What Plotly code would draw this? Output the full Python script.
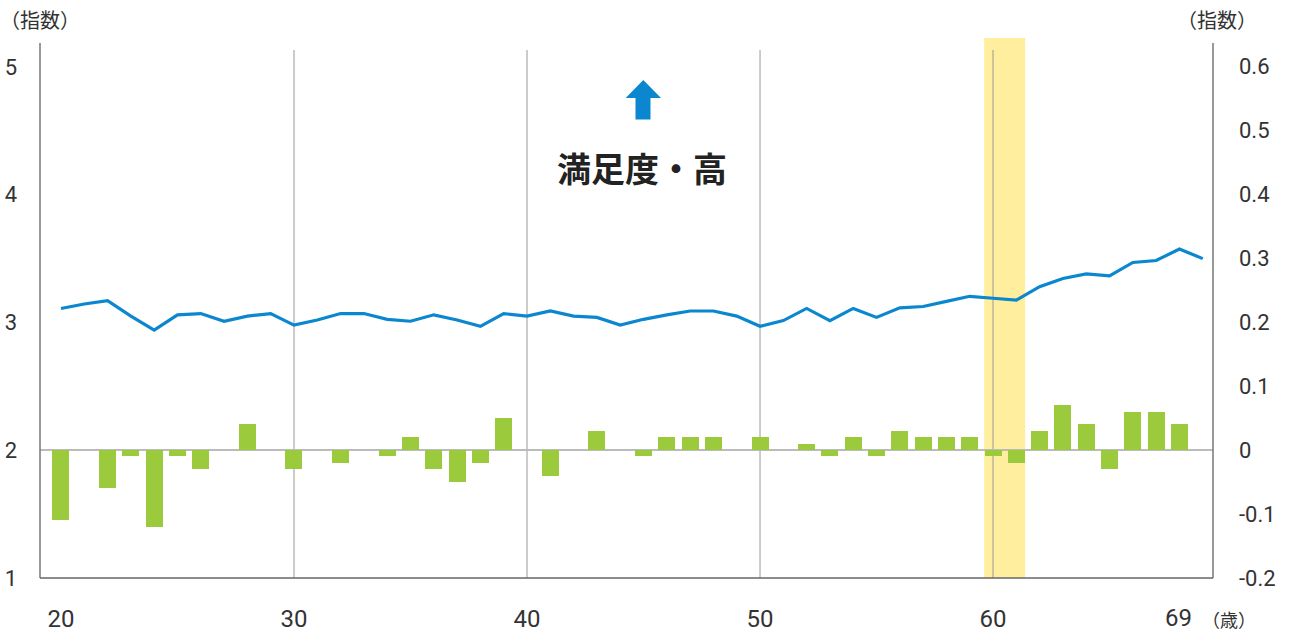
import plotly.graph_objects as go

ages = list(range(20, 70))
satisfaction = [3.11, 3.145, 3.17, 3.05, 2.94, 3.06, 3.07, 3.01, 3.05, 3.07,
                2.98, 3.02, 3.07, 3.07, 3.025, 3.01, 3.06, 3.02, 2.97, 3.07,
                3.05, 3.09, 3.05, 3.04, 2.98, 3.025, 3.06, 3.09, 3.09, 3.05,
                2.97, 3.015, 3.11, 3.015, 3.11, 3.04, 3.115, 3.125, 3.165, 3.205,
                3.19, 3.175, 3.28, 3.345, 3.38, 3.365, 3.47, 3.485, 3.575, 3.50]
change = [-0.11, 0, -0.06, -0.01, -0.12, -0.01, -0.03, 0, 0.04, 0,
          -0.03, 0, -0.02, 0, -0.01, 0.02, -0.03, -0.05, -0.02, 0.05,
          0, -0.04, 0, 0.03, 0, -0.01, 0.02, 0.02, 0.02, 0,
          0.02, 0, 0.01, -0.01, 0.02, -0.01, 0.03, 0.02, 0.02, 0.02,
          -0.01, -0.02, 0.03, 0.07, 0.04, -0.03, 0.06, 0.06, 0.04, 0]
x_ticks = [20, 30, 40, 50, 60]
last_age = 69
left_ticks = [1, 2, 3, 4, 5]
right_ticks = [-0.2, -0.1, 0, 0.1, 0.2, 0.3, 0.4, 0.5, 0.6]
right_tick_text = ["-0.2", "-0.1", "0", "0.1", "0.2", "0.3", "0.4", "0.5", "0.6"]
grid_ages = [30, 40, 50, 60]
band = [59.62, 61.38]

YFONT = dict(family="Roboto", size=22, color="#333333")
XFONT = dict(family="Roboto", size=24, color="#333333")
JP = "Noto Sans CJK JP"

fig = go.Figure()
fig.add_trace(go.Bar(x=ages, y=change, yaxis="y2", width=0.73,
                     marker=dict(color="#9BCB3C", line=dict(width=0)),
                     showlegend=False))
fig.add_trace(go.Scatter(x=ages, y=satisfaction, yaxis="y", mode="lines",
                         line=dict(color="#0A87CE", width=3.2), showlegend=False))

shapes = []
shapes.append(dict(type="rect", xref="x", yref="paper", x0=band[0], x1=band[1],
                   y0=0, y1=1, fillcolor="#FFEE9E", line=dict(width=0), layer="below"))
gtop = (578 - 50) / 540
for g in grid_ages:
    shapes.append(dict(type="line", xref="x", yref="paper", x0=g, x1=g, y0=0, y1=gtop,
                       line=dict(color="#999999", width=1), layer="below"))
shapes.append(dict(type="line", xref="paper", yref="y2", x0=0, x1=1, y0=0, y1=0,
                   line=dict(color="#BBBBBB", width=2), layer="below"))
atop = (578 - 43) / 540
shapes.append(dict(type="line", xref="paper", yref="paper", x0=0, x1=0, y0=0, y1=atop,
                   line=dict(color="#777777", width=1.5)))
shapes.append(dict(type="line", xref="paper", yref="paper", x0=1, x1=1, y0=0, y1=atop,
                   line=dict(color="#777777", width=1.5)))
shapes.append(dict(type="line", xref="paper", yref="paper", x0=0, x1=1, y0=0, y1=0,
                   line=dict(color="#666666", width=1.5)))

def px(xp):
    return (xp - 40) / 1173
def py(yp):
    return (578 - yp) / 540
pts = [(643.3, 80), (661, 98), (650.5, 98), (650.5, 119.5), (635.5, 119.5), (635.5, 98), (625.7, 98)]
path = "M " + " L ".join(f"{px(a):.5f},{py(b):.5f}" for a, b in pts) + " Z"
shapes.append(dict(type="path", xref="paper", yref="paper", path=path,
                   fillcolor="#0A87CE", line=dict(width=0)))

annotations = [
    dict(text="<b>満足度・高</b>", xref="paper", yref="paper", x=px(642), y=py(168),
         showarrow=False, font=dict(family=JP, size=34, color="#222222"),
         xanchor="center", yanchor="middle"),
    dict(text="（指数）", xref="paper", yref="paper", x=px(0), y=py(20),
         showarrow=False, font=dict(family=JP, size=20, color="#333333"),
         xanchor="left", yanchor="middle", xshift=-2),
    dict(text="（指数）", xref="paper", yref="paper", x=px(1259), y=py(20),
         showarrow=False, font=dict(family=JP, size=20, color="#333333"),
         xanchor="right", yanchor="middle"),
    dict(text=str(last_age), xref="x", yref="paper", x=last_age, y=py(618),
         showarrow=False, font=XFONT, xanchor="center", yanchor="middle", xshift=-24),
    dict(text="（歳）", xref="paper", yref="paper", x=px(1200), y=py(619),
         showarrow=False, font=dict(family=JP, size=18, color="#333333"),
         xanchor="left", yanchor="middle"),
]

fig.update_layout(
    width=1291, height=632,
    margin=dict(l=40, r=78, t=38, b=54, autoexpand=False),
    paper_bgcolor="white", plot_bgcolor="white",
    bargap=0,
    xaxis=dict(range=[19.1, 69.44], tickvals=x_ticks, ticktext=[str(v) for v in x_ticks],
               showgrid=False, zeroline=False, showline=False, ticks="",
               tickfont=XFONT, ticklabelstandoff=24, automargin=False),
    yaxis=dict(range=[1, 1 + 540 / 127.75], tickvals=left_ticks,
               showgrid=False, zeroline=False, showline=False, ticks="",
               tickfont=YFONT, ticklabelstandoff=22, automargin=False),
    yaxis2=dict(range=[-0.2, -0.2 + 540 / 640], tickvals=right_ticks, ticktext=right_tick_text,
                overlaying="y", side="right", showgrid=False, zeroline=False,
                showline=False, ticks="", tickfont=YFONT, ticklabelstandoff=25,
                automargin=False),
    shapes=shapes, annotations=annotations,
)

fig.write_html("out.html")
